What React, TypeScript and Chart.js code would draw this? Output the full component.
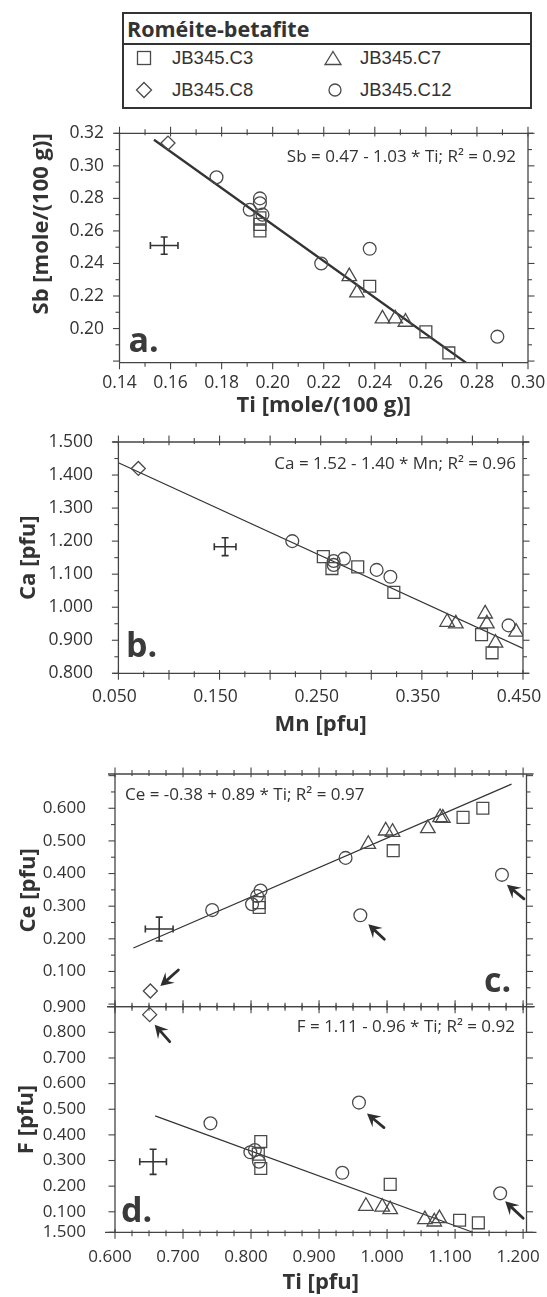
import React, { useEffect, useRef } from "react";
import { Chart, registerables } from "chart.js";

Chart.register(...registerables);

const FONT = '"Open Sans", "Noto Sans", "DejaVu Sans", sans-serif';
const LEGEND_FONT = '"Liberation Sans", Arial, sans-serif';
const INK = "#333333";
const MARK = "#4a4a4a";
const AXIS = "#444444";
const TITLE_SIZE = 22;
const EQ_SIZE = 17;

// ---------------- legend ----------------
const legendTitle = "Roméite-betafite";
const seriesNames = ["JB345.C3", "JB345.C7", "JB345.C8", "JB345.C12"];

// ---------------- panel a : Ti vs Sb [mole/(100 g)] ----------------
const aC3Ti = [0.195, 0.195, 0.195, 0.238, 0.26, 0.269];
const aC3Sb = [0.268, 0.264, 0.26, 0.226, 0.198, 0.185];
const aC7Ti = [0.23, 0.233, 0.243, 0.248, 0.252];
const aC7Sb = [0.232, 0.222, 0.206, 0.206, 0.204];
const aC8Ti = [0.159];
const aC8Sb = [0.314];
const aC12Ti = [0.178, 0.191, 0.195, 0.195, 0.196, 0.219, 0.238, 0.288];
const aC12Sb = [0.293, 0.273, 0.28, 0.277, 0.27, 0.24, 0.249, 0.195];
const aFitTi = [0.1535, 0.2757];
const aFitSb = [0.316, 0.179];
const aErrCenter = [0.1575, 0.251];
const aErrHalf = [0.0054, 0.0053];
const aXTicks = [0.14, 0.16, 0.18, 0.2, 0.22, 0.24, 0.26, 0.28, 0.3];
const aYTicks = [0.2, 0.22, 0.24, 0.26, 0.28, 0.3, 0.32];
const aXTitle = "Ti [mole/(100 g)]";
const aYTitle = "Sb [mole/(100 g)]";
const aEquation = "Sb = 0.47 - 1.03 * Ti; R² = 0.92";

// ---------------- panel b : Mn vs Ca [pfu] ----------------
const bC3Mn = [0.2526, 0.2611, 0.2866, 0.3223, 0.409, 0.4194];
const bC3Ca = [1.153, 1.117, 1.122, 1.045, 0.917, 0.862];
const bC7Mn = [0.375, 0.3836, 0.4126, 0.4143, 0.4432, 0.4228];
const bC7Ca = [0.955, 0.95, 0.98, 0.95, 0.925, 0.892];
const bC8Mn = [0.0697];
const bC8Ca = [1.42];
const bC12Mn = [0.2219, 0.2628, 0.2628, 0.273, 0.3053, 0.3189, 0.4357];
const bC12Ca = [1.2, 1.14, 1.128, 1.147, 1.113, 1.092, 0.945];
const bFitMn = [0.05, 0.45];
const bFitCa = [1.437, 0.875];
const bErrCenter = [0.1555, 1.183];
const bErrHalf = [0.0107, 0.027];
const bXTicks = [0.05, 0.15, 0.25, 0.35, 0.45];
const bYTicks = [0.8, 0.9, 1.0, 1.1, 1.2, 1.3, 1.4, 1.5];
const bXTitle = "Mn [pfu]";
const bYTitle = "Ca [pfu]";
const bEquation = "Ca = 1.52 - 1.40 * Mn; R² = 0.96";

// ---------------- panel c : Ti vs Ce [pfu] ----------------
const cC3Ti = [0.812, 0.812, 1.009, 1.1117, 1.1408];
const cC3Ce = [0.311, 0.296, 0.47, 0.572, 0.6];
const cC7Ti = [0.9724, 0.998, 1.008, 1.06, 1.078, 1.082];
const cC7Ce = [0.49, 0.531, 0.527, 0.538, 0.572, 0.57];
const cC8Ti = [0.652];
const cC8Ce = [0.04];
const cC12Ti = [0.7429, 0.8015, 0.809, 0.814, 0.939, 0.9607, 1.1689];
const cC12Ce = [0.288, 0.306, 0.331, 0.348, 0.448, 0.272, 0.396];
const cFitTi = [0.627, 1.183];
const cFitCe = [0.172, 0.674];
const cErrCenter = [0.665, 0.23];
const cErrHalf = [0.0204, 0.0365];
const cXTicks = [0.6, 0.7, 0.8, 0.9, 1.0, 1.1, 1.2];
const cYTicks = [0.1, 0.2, 0.3, 0.4, 0.5, 0.6];
const cYTitle = "Ce [pfu]";
const cEquation = "Ce = -0.38 + 0.89 * Ti; R² = 0.97";

// ---------------- panel d : Ti vs F [pfu] ----------------
const dC3Ti = [0.8143, 0.8143, 0.8107, 1.0046, 1.1066, 1.1342];
const dC3F = [0.374, 0.269, 0.325, 0.207, 0.067, 0.057];
const dC7Ti = [0.9689, 0.9929, 1.0046, 1.0556, 1.0694, 1.077];
const dC7F = [0.122, 0.119, 0.109, 0.07, 0.061, 0.074];
const dC8Ti = [0.651];
const dC8F = [0.869];
const dC12Ti = [0.7403, 0.799, 0.8056, 0.8117, 0.9342, 0.9587, 1.1663];
const dC12F = [0.445, 0.332, 0.341, 0.295, 0.252, 0.526, 0.172];
const dFitTi = [0.659, 1.126];
const dFitF = [0.474, 0.02];
const dErrCenter = [0.656, 0.295];
const dErrHalf = [0.0196, 0.049];
const dXTicks = [0.6, 0.7, 0.8, 0.9, 1.0, 1.1, 1.2];
const dYTicks = [0.02, 0.1, 0.2, 0.3, 0.4, 0.5, 0.6, 0.7, 0.8, 0.9];
const dYLabels = ["1.500", "0.100", "0.200", "0.300", "0.400", "0.500", "0.600", "0.700", "0.800", "0.900"];
const dXTitle = "Ti [pfu]";
const dYTitle = "F [pfu]";
const dEquation = "F = 1.11 - 0.96 * Ti; R² = 0.92";

// ---------------- helpers ----------------
type XY = { x: number; y: number };
const zip = (xs: number[], ys: number[]): XY[] => xs.map((x, i) => ({ x, y: ys[i] }));
const fmt = (d: number) => (v: number) => v.toFixed(d);

const W = 547;

const panels: any[] = [
  {
    key: "a",
    top: 112,
    height: 308,
    area: { left: 119.5, right: 528, top: 133.3, bottom: 362.7 },
    x: { min: 0.14, max: 0.3, ticks: aXTicks, labels: aXTicks.map(fmt(2)), minor: 0.01, major: 0.02, title: aXTitle, font: 17.5, labelPad: 9.5, labelOffset: 0, titleY: 406, topMode: "cross", bottomMode: "out", extTop: 5, extBottom: 0 },
    y: { min: 0.179, max: 0.32, ticks: aYTicks, labels: aYTicks.map(fmt(2)), minor: 0.01, major: 0.02, title: aYTitle, font: 17.5, labelRight: 104, titleX: 41.6, titleAlign: "end" },
    series: [zip(aC3Ti, aC3Sb), zip(aC7Ti, aC7Sb), zip(aC8Ti, aC8Sb), zip(aC12Ti, aC12Sb)],
    fit: zip(aFitTi, aFitSb),
    fitWidth: 2.3,
    err: { c: aErrCenter, h: aErrHalf },
    equation: { text: aEquation, x: 516, y: 156.7, align: "right" },
    letter: { text: "a.", x: 128.5, y: 351.7 },
    arrows: [],
  },
  {
    key: "b",
    top: 425,
    height: 320,
    area: { left: 118.4, right: 523, top: 442, bottom: 673.3 },
    x: { min: 0.05, max: 0.45, ticks: bXTicks, labels: bXTicks.map(fmt(3)), minor: 0.025, major: 0.05, title: bXTitle, font: 17.5, labelPad: 13.5, labelOffset: -4, titleY: 725, topMode: "cross", bottomMode: "cross", extTop: 6, extBottom: 6 },
    y: { min: 0.8, max: 1.5, ticks: bYTicks, labels: bYTicks.map(fmt(3)), minor: 0.05, major: 0.1, title: bYTitle, font: 17.5, labelRight: 93, titleX: 28.5, titleAlign: "center" },
    series: [zip(bC3Mn, bC3Ca), zip(bC7Mn, bC7Ca), zip(bC8Mn, bC8Ca), zip(bC12Mn, bC12Ca)],
    fit: zip(bFitMn, bFitCa),
    fitWidth: 1.2,
    err: { c: bErrCenter, h: bErrHalf },
    equation: { text: bEquation, x: 516, y: 464, align: "right" },
    letter: { text: "b.", x: 126, y: 656.7 },
    arrows: [],
  },
  {
    key: "c",
    top: 750,
    height: 270,
    area: { left: 115, right: 526.5, top: 774, bottom: 1006.7 },
    x: { min: 0.6, max: 1.205, ticks: cXTicks, labels: null, minor: 0.025, major: 0.1, title: null, font: 17, labelPad: 0, labelOffset: 0, titleY: 0, topMode: "cross", bottomMode: "cross", extTop: 7, extBottom: 8 },
    y: { min: -0.008, max: 0.705, ticks: cYTicks, labels: cYTicks.map(fmt(3)), minor: 0.05, major: 0.1, title: cYTitle, font: 17, labelRight: 86, titleX: 28.8, titleAlign: "center" },
    series: [zip(cC3Ti, cC3Ce), zip(cC7Ti, cC7Ce), zip(cC8Ti, cC8Ce), zip(cC12Ti, cC12Ce)],
    fit: zip(cFitTi, cFitCe),
    fitWidth: 1.2,
    err: { c: cErrCenter, h: cErrHalf },
    equation: { text: cEquation, x: 125, y: 795, align: "left" },
    letter: { text: "c.", x: 484, y: 991.7 },
    arrows: [
      { s: 2, i: 0, tip: [10, -5], tail: [18, -16] },
      { s: 3, i: 5, tip: [8, 9], tail: [16, 15] },
      { s: 3, i: 6, tip: [5, 10], tail: [17, 14] },
    ],
  },
  {
    key: "d",
    top: 990,
    height: 307,
    area: { left: 115, right: 526.5, top: 1006.7, bottom: 1232.3 },
    x: { min: 0.6, max: 1.205, ticks: dXTicks, labels: dXTicks.map(fmt(3)), minor: 0.025, major: 0.1, title: dXTitle, font: 17, labelPad: 15, labelOffset: -5, titleY: 1283, topMode: "cross", bottomMode: "cross", extTop: 8, extBottom: 10 },
    y: { min: 0.02, max: 0.9, ticks: dYTicks, labels: dYLabels, minor: 0.1, major: 0.1, title: dYTitle, font: 17, labelRight: 86, titleX: 26.5, titleAlign: "center" },
    series: [zip(dC3Ti, dC3F), zip(dC7Ti, dC7F), zip(dC8Ti, dC8F), zip(dC12Ti, dC12F)],
    fit: zip(dFitTi, dFitF),
    fitWidth: 1.2,
    err: { c: dErrCenter, h: dErrHalf },
    equation: { text: dEquation, x: 515, y: 1027.3, align: "right" },
    letter: { text: "d.", x: 121, y: 1221.7 },
    arrows: [
      { s: 2, i: 0, tip: [5, 10], tail: [15, 17] },
      { s: 3, i: 5, tip: [8, 11], tail: [17, 14] },
      { s: 3, i: 6, tip: [5, 8], tail: [18, 17] },
    ],
  },
];

const markerStyles = [
  { pointStyle: "rect", radius: 8.4 },
  { pointStyle: "triangle", radius: 8.4 },
  { pointStyle: "rectRot", radius: 7 },
  { pointStyle: "circle", radius: 6.4 },
];

function tickMarks(ax: any) {
  const out: { v: number; major: boolean }[] = [];
  const start = Math.ceil(ax.min / ax.minor - 1e-6);
  for (let k = start; k * ax.minor <= ax.max + 1e-9; k++) {
    const v = k * ax.minor;
    const r = v / ax.major;
    out.push({ v, major: Math.abs(r - Math.round(r)) < 1e-6 });
  }
  for (const t of ax.ticks) {
    if (!out.some((o) => Math.abs(o.v - t) < 1e-6)) out.push({ v: t, major: true });
  }
  return out;
}

function drawFrame(chart: any, p: any) {
  const ctx = chart.ctx;
  const xs = chart.scales.x;
  const ys = chart.scales.y;
  const L = xs.getPixelForValue(p.x.min);
  const R = xs.getPixelForValue(p.x.max);
  const T = ys.getPixelForValue(p.y.max);
  const B = ys.getPixelForValue(p.y.min);
  ctx.save();
  ctx.strokeStyle = AXIS;
  ctx.lineWidth = 1.3;
  const seg = (x1: number, y1: number, x2: number, y2: number) => {
    ctx.beginPath();
    ctx.moveTo(x1, y1);
    ctx.lineTo(x2, y2);
    ctx.stroke();
  };
  seg(L - p.x.extTop, T, R + p.x.extTop, T);
  seg(L - p.x.extBottom, B, R + p.x.extBottom, B);
  seg(L, T, L, B);
  seg(R, T, R, B);
  ctx.lineWidth = 1.1;
  for (const t of tickMarks(p.x)) {
    const px = xs.getPixelForValue(t.v);
    const len = t.major ? 6.5 : 4;
    if (p.x.topMode === "cross") seg(px, T - len, px, T + len * 0.5);
    else seg(px, T - len, px, T);
    if (p.x.bottomMode === "cross") seg(px, B - len * 0.5, px, B + len);
    else seg(px, B, px, B + len);
  }
  for (const t of tickMarks(p.y)) {
    const py = ys.getPixelForValue(t.v);
    const len = t.major ? 6.5 : 4;
    seg(L - len, py, L, py);
    seg(R, py, R + len, py);
  }
  ctx.restore();
}

function drawNotes(chart: any, p: any) {
  const ctx = chart.ctx;
  const xs = chart.scales.x;
  const ys = chart.scales.y;
  ctx.save();
  ctx.fillStyle = INK;
  ctx.font = `${EQ_SIZE}px ${FONT}`;
  ctx.textBaseline = "middle";
  ctx.textAlign = p.equation.align;
  ctx.fillText(p.equation.text, p.equation.x, p.equation.y - p.top);
  ctx.font = `bold 34px ${FONT}`;
  ctx.textAlign = "left";
  ctx.textBaseline = "alphabetic";
  ctx.fillStyle = "#3a3a3a";
  ctx.fillText(p.letter.text, p.letter.x, p.letter.y - p.top);
  ctx.fillStyle = "#2e2e2e";
  ctx.strokeStyle = "#2e2e2e";
  for (const a of p.arrows) {
    const pt = p.series[a.s][a.i];
    const px = xs.getPixelForValue(pt.x);
    const py = ys.getPixelForValue(pt.y);
    const tipX = px + a.tip[0];
    const tipY = py + a.tip[1];
    const tailX = tipX + a.tail[0];
    const tailY = tipY + a.tail[1];
    const ang = Math.atan2(tipY - tailY, tipX - tailX);
    const ux = Math.cos(ang);
    const uy = Math.sin(ang);
    const nx = -uy;
    const ny = ux;
    ctx.lineWidth = 2.8;
    ctx.lineCap = "round";
    ctx.beginPath();
    ctx.moveTo(tailX, tailY);
    ctx.lineTo(tipX - ux * 7, tipY - uy * 7);
    ctx.stroke();
    ctx.beginPath();
    ctx.moveTo(tipX, tipY);
    ctx.lineTo(tipX - ux * 13 + nx * 7, tipY - uy * 13 + ny * 7);
    ctx.lineTo(tipX - ux * 8, tipY - uy * 8);
    ctx.lineTo(tipX - ux * 13 - nx * 7, tipY - uy * 13 - ny * 7);
    ctx.closePath();
    ctx.fill();
  }
  ctx.restore();
}

function makeDecor(p: any) {
  return {
    id: "decor" + p.key,
    afterDraw(chart: any) {
      drawFrame(chart, p);
      drawNotes(chart, p);
    },
  };
}

function buildConfig(p: any) {
  const ca = p.area;
  const padTop = ca.top - p.top;
  const xAxisH = p.top + p.height - ca.bottom;
  const padRight = W - ca.right;
  const yAxisW = ca.left;
  const titleFont = { family: FONT, size: TITLE_SIZE, weight: "bold" as const };
  const half = (TITLE_SIZE * 1.2) / 2;

  const datasets: any[] = [];
  p.series.forEach((d: XY[], i: number) => {
    datasets.push({
      label: seriesNames[i],
      data: d,
      showLine: false,
      pointStyle: markerStyles[i].pointStyle,
      pointRadius: markerStyles[i].radius,
      pointHoverRadius: markerStyles[i].radius,
      pointBorderColor: MARK,
      pointBackgroundColor: "rgba(255,255,255,0)",
      pointBorderWidth: 1.3,
    });
  });
  datasets.push({
    label: "fit",
    data: p.fit,
    showLine: true,
    borderColor: "#333",
    borderWidth: p.fitWidth,
    pointRadius: 0,
    fill: false,
  });
  const [cx, cy] = p.err.c;
  const [hx, hy] = p.err.h;
  datasets.push({
    label: "error-x",
    data: [
      { x: cx - hx, y: cy },
      { x: cx + hx, y: cy },
    ],
    showLine: true,
    borderColor: INK,
    borderWidth: 1.6,
    pointStyle: "line",
    pointRotation: 90,
    pointRadius: 3.5,
    pointBorderColor: INK,
    pointBorderWidth: 1.6,
  });
  datasets.push({
    label: "error-y",
    data: [
      { x: cx, y: cy - hy },
      { x: cx, y: cy + hy },
    ],
    showLine: true,
    borderColor: INK,
    borderWidth: 1.6,
    pointStyle: "line",
    pointRotation: 0,
    pointRadius: 3.5,
    pointBorderColor: INK,
    pointBorderWidth: 1.6,
  });

  return {
    type: "scatter" as const,
    data: { datasets },
    plugins: [makeDecor(p)],
    options: {
      animation: false as const,
      responsive: false,
      devicePixelRatio: 1,
      events: [],
      layout: { autoPadding: false, padding: { top: padTop, right: padRight, left: 0, bottom: 0 } },
      plugins: { legend: { display: false }, tooltip: { enabled: false } },
      scales: {
        x: {
          type: "linear",
          position: "bottom",
          min: p.x.min,
          max: p.x.max,
          grid: { display: false, drawTicks: false },
          border: { display: false },
          afterBuildTicks: (s: any) => {
            s.ticks = p.x.ticks.map((v: number) => ({ value: v }));
          },
          afterFit: (s: any) => {
            s.height = xAxisH;
            s.paddingLeft = 0;
            s.paddingRight = 0;
            s.paddingTop = 0;
            s.paddingBottom = 0;
          },
          ticks: {
            display: !!p.x.labels,
            autoSkip: false,
            maxRotation: 0,
            minRotation: 0,
            padding: p.x.labelPad,
            labelOffset: p.x.labelOffset,
            color: INK,
            font: { family: FONT, size: p.x.font },
            callback: (_v: any, i: number) => (p.x.labels ? p.x.labels[i] : ""),
          },
          title: p.x.title
            ? {
                display: true,
                text: p.x.title,
                color: INK,
                font: titleFont,
                padding: { top: 0, bottom: p.height - (p.x.titleY - p.top) - half },
              }
            : { display: false },
        },
        y: {
          type: "linear",
          position: "left",
          min: p.y.min,
          max: p.y.max,
          grid: { display: false, drawTicks: false },
          border: { display: false },
          afterBuildTicks: (s: any) => {
            s.ticks = p.y.ticks.map((v: number) => ({ value: v }));
          },
          afterFit: (s: any) => {
            s.width = yAxisW;
            s.paddingLeft = 0;
            s.paddingRight = 0;
            s.paddingTop = 0;
            s.paddingBottom = 0;
          },
          ticks: {
            autoSkip: false,
            padding: ca.left - p.y.labelRight,
            color: INK,
            font: { family: FONT, size: p.y.font },
            callback: (_v: any, i: number) => p.y.labels[i],
          },
          title: {
            display: true,
            text: p.y.title,
            color: INK,
            font: titleFont,
            align: p.y.titleAlign,
            padding: { top: p.y.titleX - half, bottom: 0 },
          },
        },
      },
    },
  };
}

function Panel({ p }: { p: any }) {
  const ref = useRef<HTMLCanvasElement>(null);
  useEffect(() => {
    if (!ref.current) return;
    const chart = new Chart(ref.current, buildConfig(p) as any);
    return () => chart.destroy();
  }, [p]);
  return (
    <canvas
      ref={ref}
      width={W}
      height={p.height}
      style={{ position: "absolute", left: 0, top: p.top, width: W, height: p.height }}
    />
  );
}

function Symbol({ kind }: { kind: number }) {
  const s = { fill: "none", stroke: MARK, strokeWidth: 1.3 };
  return (
    <svg width={18} height={18} viewBox="0 0 18 18" style={{ display: "block" }}>
      {kind === 0 && <rect x={2.5} y={2.5} width={13} height={13} {...s} />}
      {kind === 1 && <polygon points="9,2.5 17,15.5 1,15.5" {...s} />}
      {kind === 2 && <polygon points="9,1.5 16.5,9 9,16.5 1.5,9" {...s} />}
      {kind === 3 && <circle cx={9} cy={9} r={6} {...s} />}
    </svg>
  );
}

function Legend() {
  const items = [
    { kind: 0, sx: 143.5, tx: 172, cy: 58.3 },
    { kind: 1, sx: 333.3, tx: 360, cy: 58.3 },
    { kind: 2, sx: 144, tx: 172, cy: 89.5 },
    { kind: 3, sx: 334.7, tx: 360, cy: 89.5 },
  ];
  const L = 122;
  const T = 12;
  return (
    <div
      style={{
        position: "absolute",
        left: L,
        top: T,
        width: 410,
        height: 97,
        border: "2px solid #333",
        boxSizing: "border-box",
        color: INK,
      }}
    >
      <div
        style={{
          position: "absolute",
          left: 0,
          top: 0,
          right: 0,
          height: 29,
          borderBottom: "2px solid #333",
          fontFamily: FONT,
          fontWeight: 700,
          fontSize: 21.5,
          lineHeight: "29px",
          paddingLeft: 3,
          whiteSpace: "nowrap",
        }}
      >
        {legendTitle}
      </div>
      {items.map((it) => (
        <React.Fragment key={it.kind}>
          <div style={{ position: "absolute", left: it.sx - L - 2 - 9, top: it.cy - T - 2 - 9 }}>
            <Symbol kind={it.kind} />
          </div>
          <div
            style={{
              position: "absolute",
              left: it.tx - L - 2,
              top: it.cy - T - 2 - 11,
              height: 22,
              lineHeight: "22px",
              fontFamily: LEGEND_FONT,
              fontSize: 18.5,
              whiteSpace: "nowrap",
            }}
          >
            {seriesNames[it.kind]}
          </div>
        </React.Fragment>
      ))}
    </div>
  );
}

export default function App() {
  return (
    <div style={{ position: "absolute", left: 0, top: 0, width: W, height: 1297, background: "#fff", overflow: "hidden" }}>
      <Legend />
      {panels.map((p) => (
        <Panel key={p.key} p={p} />
      ))}
    </div>
  );
}
